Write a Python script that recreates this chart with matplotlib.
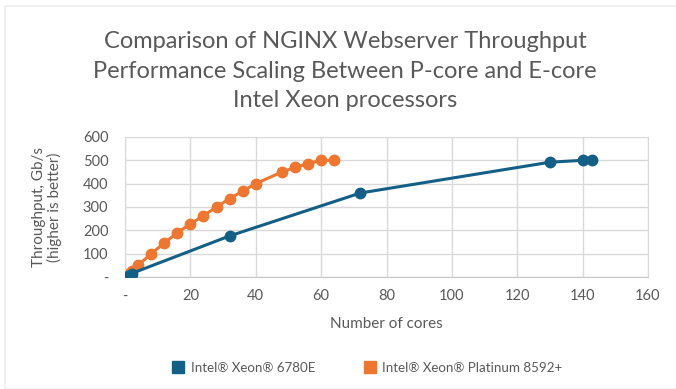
import matplotlib
matplotlib.use("Agg")
import matplotlib.pyplot as plt
from matplotlib.lines import Line2D
from matplotlib.patches import Rectangle

# data
ecore_cores = [1, 2, 32, 72, 130, 140, 143]
ecore_tput = [5, 15, 176, 360, 492, 500, 500]

pcore_cores = [1, 2, 4, 8, 12, 16, 20, 24, 28, 32, 36, 40, 48, 52, 56, 60, 64]
pcore_tput = [12, 25, 50, 100, 145, 190, 227, 263, 300, 336, 368, 400, 450, 470, 486, 500, 500]

series_names = ["Intel\u00ae Xeon\u00ae 6780E", "Intel\u00ae Xeon\u00ae Platinum 8592+"]
x_ticks = [0, 20, 40, 60, 80, 100, 120, 140, 160]
y_ticks = [0, 100, 200, 300, 400, 500, 600]

blue = "#145f85"
orange = "#ed7630"
text_gray = "#595959"
grid_gray = "#d9d9d9"

plt.rcParams["font.family"] = ["Lato", "DejaVu Sans"]

fig = plt.figure(figsize=(6.76, 3.89), dpi=100)
fig.patches.append(Rectangle((5 / 676, 0), 1, 1 - 6 / 389, transform=fig.transFigure,
                             fill=False, edgecolor="#eeeeee", linewidth=1.2))

ax = fig.add_axes([125 / 676, 1 - 277 / 389, 523 / 676, 140 / 389])
ax.plot(ecore_cores, ecore_tput, color=blue, lw=2.2, marker="o", ms=7.5, zorder=3)
ax.plot(pcore_cores, pcore_tput, color=orange, lw=2.2, marker="o", ms=7.5, zorder=2)

ax.set_xlim(0, 160)
ax.set_ylim(0, 600)
ax.set_xticks(x_ticks)
ax.set_yticks(y_ticks)
ax.set_xticklabels(["-" if v == 0 else str(v) for v in x_ticks])
ax.set_yticklabels(["-" if v == 0 else str(v) for v in y_ticks])
ax.tick_params(length=0, colors=text_gray, labelsize=10.5, pad=9)
ax.tick_params(axis="y", pad=12)
ax.grid(True, color=grid_gray, lw=1)
ax.set_axisbelow(True)
for s in ax.spines.values():
    s.set_color(grid_gray)
ax.spines["bottom"].set_color("#c8c8c8")

ax.set_xlabel("Number of cores", color=text_gray, fontsize=11, labelpad=10)
fig.text(47 / 676, 1 - 207 / 389, "Throughput, Gb/s\n(higher is better)", rotation=90,
         ha="center", va="center", color=text_gray, fontsize=11, linespacing=1.05)

fig.text(345 / 676, 1 - 31 / 389,
         "Comparison of NGINX Webserver Throughput\nPerformance Scaling Between P-core and E-core\nIntel Xeon processors",
         ha="center", va="top", color=text_gray, fontsize=17, linespacing=1.5)

handles = [Line2D([], [], color=blue, marker="s", ls="none", ms=8.5),
           Line2D([], [], color=orange, marker="s", ls="none", ms=8.5)]
fig.legend(handles, series_names, loc="center", bbox_to_anchor=(367 / 676, 1 - 368 / 389),
           ncol=2, frameon=False, fontsize=9.6, labelcolor=text_gray,
           handletextpad=0.45, columnspacing=3.6, handlelength=1.0)

fig.savefig("out.png", dpi=100, facecolor="white")
